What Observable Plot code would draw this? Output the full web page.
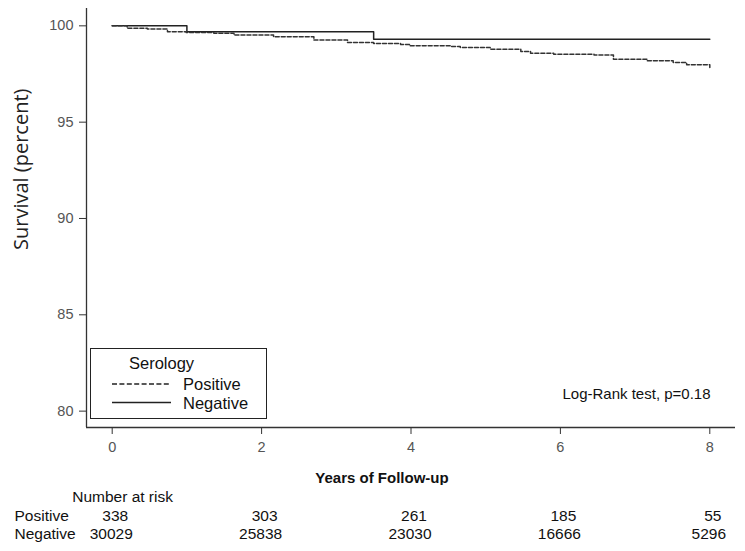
<!DOCTYPE html>
<html><head><meta charset="utf-8">
<script src="https://cdn.jsdelivr.net/npm/d3@7"></script>
<script src="https://cdn.jsdelivr.net/npm/@observablehq/plot@0.6"></script>
<style>
body{margin:0;background:#fff;}
#wrap{position:relative;width:745px;height:551px;overflow:hidden;}
#wrap svg{display:block;}
#legend{position:absolute;left:90px;top:348px;width:175px;height:69px;border:1.4px solid #222;background:#fff;font-family:'Liberation Sans',Arial,sans-serif;font-size:16.5px;color:#111;}
#legend svg{position:absolute;left:0;top:0;}
</style></head><body><div id="wrap"></div>
<script>
// Kaplan-Meier curves (years, survival %)
const negTime = [0, 1.0, 3.5, 8.0];
const negSurv = [100, 99.69, 99.31, 99.31];
const posTime = [0, 0.2, 0.47, 0.74, 0.99, 1.36, 1.63, 2.16, 2.7, 3.15, 3.5, 3.86, 3.99, 4.53, 4.66, 5.06, 5.47, 5.6, 5.91, 6.45, 6.71, 7.16, 7.51, 7.69, 8.0];
const posSurv = [100, 99.88, 99.83, 99.69, 99.66, 99.62, 99.52, 99.43, 99.26, 99.13, 99.08, 99.03, 98.96, 98.93, 98.87, 98.79, 98.67, 98.58, 98.53, 98.48, 98.27, 98.19, 98.10, 97.98, 97.84];

// Axes
const xTicks = [0, 2, 4, 6, 8];
const yTicks = [80, 85, 90, 95, 100];
const xDomain = [-0.344, 8.344];
const yDomain = [79.15, 100.9];

// Number at risk
const riskGroups = ["Positive", "Negative"];
const riskTimes = [0, 2, 4, 6, 8];
const riskPositive = [338, 303, 261, 185, 55];
const riskNegative = [30029, 25838, 23030, 16666, 5296];

const legendTitle = "Serology";
const xLabel = "Years of Follow-up";
const yLabel = "Survival (percent)";
const testNote = "Log-Rank test, p=0.18";
const riskTitle = "Number at risk";

const negData = negTime.map((t, i) => ({t, s: negSurv[i]}));
const posData = posTime.map((t, i) => ({t, s: posSurv[i]}));
const riskPosData = riskTimes.map((t, i) => ({t, g: "Positive", n: riskPositive[i]}));
const riskNegData = riskTimes.map((t, i) => ({t, g: "Negative", n: riskNegative[i]}));

const font = "'Liberation Sans', Arial, sans-serif";

const main = Plot.plot({
  width: 745, height: 485,
  marginLeft: 86, marginRight: 10, marginTop: 8, marginBottom: 58,
  x: {domain: xDomain},
  y: {domain: yDomain},
  style: {fontFamily: font, fontSize: "14.5px", color: "#333", background: "#fff"},
  marks: [
    Plot.ruleX([xDomain[0]], {stroke: "#333", strokeWidth: 1.3}),
    Plot.ruleY([yDomain[0]], {stroke: "#333", strokeWidth: 1.3}),
    Plot.axisY({ticks: yTicks, tickSize: 7, tickPadding: 6, label: null, tickFormat: d => d, fill: "#555", stroke: "#333"}),
    Plot.axisX({ticks: xTicks, tickSize: 7, tickPadding: 7, label: null, tickFormat: d => d, fill: "#555", stroke: "#333"}),
    Plot.line(negData, {x: "t", y: "s", curve: "step-after", stroke: "#222", strokeWidth: 1.5}),
    Plot.line(posData, {x: "t", y: "s", curve: "step-after", stroke: "#333", strokeWidth: 1.5, strokeDasharray: "4,2"}),
    Plot.text([xLabel], {text: d => d, frameAnchor: "bottom", lineAnchor: "middle", dx: -29, dy: 51, fontWeight: "bold", fontSize: 15, fill: "#111"}),
    Plot.text([testNote], {text: d => d, frameAnchor: "bottom-right", lineAnchor: "middle", textAnchor: "start", dx: -173, dy: -33, fontSize: 15, fill: "#111"}),
    Plot.text([yLabel], {text: d => d, frameAnchor: "left", rotate: -90, dx: -65, dy: 32, fontFamily: "'Open Sans', sans-serif", fontSize: 20, fill: "#222"})
  ]
});

const table = Plot.plot({
  width: 745, height: 66,
  marginLeft: 86, marginRight: 10, marginTop: 31, marginBottom: 17,
  x: {domain: xDomain, axis: null},
  y: {type: "point", domain: riskGroups, padding: 0, axis: null},
  style: {fontFamily: font, fontSize: "15.5px", color: "#111", background: "#fff"},
  marks: [
    Plot.text(riskPosData, {x: "t", y: "g", text: d => String(d.n), dx: 3, fill: "#111"}),
    Plot.text(riskNegData, {x: "t", y: "g", text: d => String(d.n), dx: -1, fill: "#111"}),
    Plot.text(riskGroups, {y: d => d, text: d => d, frameAnchor: "left", textAnchor: "start", dx: -72, fill: "#111"}),
    Plot.text([riskTitle], {text: d => d, frameAnchor: "top-left", lineAnchor: "middle", textAnchor: "start", dx: -14.3, dy: -19, fill: "#111"})
  ]
});

const wrap = document.getElementById("wrap");
wrap.appendChild(main);
wrap.appendChild(table);

// Legend (line-style key)
const ff = font.replace(/'/g, "");
const leg = document.createElement("div");
leg.id = "legend";
leg.innerHTML = `<svg width="175" height="69">
  <text x="38" y="14" dy="0.35em" font-size="16.5" fill="#111" font-family="${ff}">${legendTitle}</text>
  <line x1="21" x2="80" y1="35" y2="35" stroke="#222" stroke-width="1.5" stroke-dasharray="5,2.4"/>
  <text x="92" y="35" dy="0.35em" font-size="16.5" fill="#111" font-family="${ff}">${riskGroups[0]}</text>
  <line x1="21" x2="80" y1="53.5" y2="53.5" stroke="#222" stroke-width="1.5"/>
  <text x="92" y="54" dy="0.35em" font-size="16.5" fill="#111" font-family="${ff}">${riskGroups[1]}</text>
</svg>`;
wrap.appendChild(leg);
</script></body></html>
